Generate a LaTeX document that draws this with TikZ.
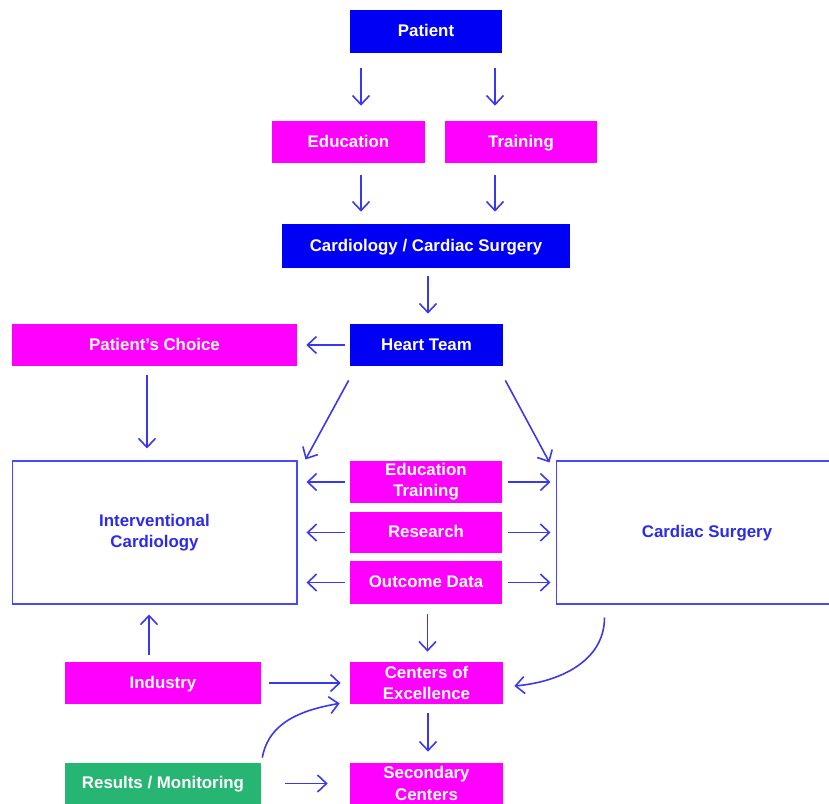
\documentclass[tikz,border=0pt]{standalone}
\usepackage{fontspec}
\setmainfont{Liberation Sans}
\usetikzlibrary{arrows.meta}
\definecolor{boxblue}{HTML}{0000F5}
\definecolor{boxpink}{HTML}{FF00FF}
\definecolor{boxgreen}{HTML}{27B574}
\definecolor{arrblue}{HTML}{3838F0}
\definecolor{lineblue}{HTML}{4848FF}
\definecolor{textblue}{HTML}{2B2BE8}
\tikzset{
  box/.style={inner sep=0pt, align=center, font=\fontsize{9.6}{12}\selectfont\bfseries},
  oneline/.style={text height=1.6ex, text depth=0.45ex},
  bluebox/.style={box, fill=boxblue, text=white},
  pinkbox/.style={box, fill=boxpink, text=white},
  greenbox/.style={box, fill=boxgreen, text=white},
  openbox/.style={box, draw=lineblue, line width=0.6pt, fill=white, text=textblue},
  arr/.style={-{Straight Barb[length=1.8mm,width=3.4mm,line width=0.9pt]}, draw=arrblue, line width=0.9pt}
}
\begin{document}
\begin{tikzpicture}[x=0.02cm, y=-0.02cm]
    \useasboundingbox (0,0) rectangle (829,804);
    % top part
    \node[bluebox, oneline, minimum width=3.04cm, minimum height=0.86cm] (patient) at (426,31.5) {Patient};
    \node[pinkbox, oneline, minimum width=3.06cm, minimum height=0.84cm] (edu) at (348.5,142) {Education};
    \node[pinkbox, oneline, minimum width=3.04cm, minimum height=0.84cm] (train) at (521,142) {Training};
    \node[bluebox, oneline, minimum width=5.76cm, minimum height=0.88cm] (cardio) at (426,246) {Cardiology / Cardiac Surgery};
    \node[bluebox, oneline, minimum width=3.06cm, minimum height=0.84cm] (heart) at (426.5,345) {Heart Team};
    \node[pinkbox, oneline, minimum width=5.70cm, minimum height=0.84cm] (choice) at (154.5,345) {Patient's Choice};
    % the two sides
    \node[openbox, minimum width=5.70cm, minimum height=2.86cm] (interv) at (154.5,532.5) {Interventional\\Cardiology};
    \node[openbox, oneline, minimum width=6.04cm, minimum height=2.86cm] (surg) at (707,532.5) {Cardiac Surgery};
    \node[pinkbox, minimum width=3.04cm, minimum height=0.84cm] (edtrain) at (426,482) {Education\\Training};
    \node[pinkbox, oneline, minimum width=3.04cm, minimum height=0.82cm] (research) at (426,532.5) {Research};
    \node[pinkbox, oneline, minimum width=3.04cm, minimum height=0.86cm] (outcome) at (426,582.5) {Outcome Data};
    % bottom part
    \node[pinkbox, oneline, minimum width=3.92cm, minimum height=0.84cm] (industry) at (163,683) {Industry};
    \node[pinkbox, minimum width=3.06cm, minimum height=0.84cm] (coe) at (426.5,683) {Centers of\\Excellence};
    \node[greenbox, oneline, minimum width=3.92cm, minimum height=0.82cm] (results) at (163,783.5) {Results / Monitoring};
    \node[pinkbox, minimum width=3.06cm, minimum height=0.82cm] (second) at (426.5,783.5) {Secondary\\Centers};

    \draw[arr, shorten <=0.3cm, shorten >=0.3cm] ([xshift=0.25cm]edu.north |- patient.south) -- ([xshift=0.25cm]edu.north);
    \draw[arr, shorten <=0.3cm, shorten >=0.3cm] ([xshift=-0.52cm]train.north |- patient.south) -- ([xshift=-0.52cm]train.north);
    \draw[arr, shorten <=0.24cm, shorten >=0.24cm] ([xshift=0.25cm]edu.south) -- ([xshift=0.25cm]edu.south |- cardio.north);
    \draw[arr, shorten <=0.24cm, shorten >=0.24cm] ([xshift=-0.52cm]train.south) -- ([xshift=-0.52cm]train.south |- cardio.north);
    \draw[arr, shorten <=0.16cm, shorten >=0.2cm] ([xshift=0.04cm]cardio.south) -- ([xshift=0.04cm]cardio.south |- heart.north);
    \draw[arr, shorten <=0.1cm, shorten >=0.18cm] (heart.west) -- (choice.east);
    \draw[arr, shorten <=0.18cm, shorten >=0.24cm] ([xshift=-0.15cm]choice.south) -- ([xshift=-0.15cm]choice.south |- interv.north);
    \draw[arr] ([xshift=-0.02cm,yshift=-0.28cm]heart.south west) -- ([xshift=0.16cm,yshift=0.02cm]interv.north east);
    \draw[arr] ([xshift=0.04cm,yshift=-0.28cm]heart.south east) -- ([xshift=-0.12cm,yshift=-0.04cm]surg.north west);
    % middle arrows
    \foreach \m in {edtrain, research, outcome}
    {
      \draw[arr, shorten <=0.1cm, shorten >=0.18cm] (\m.west) -- (\m.west -| interv.east);
      \draw[arr, shorten <=0.12cm, shorten >=0.1cm] (\m.east) -- (\m.east -| surg.west);
    }
    \draw[arr, shorten <=0.2cm, shorten >=0.2cm] ([xshift=0.03cm]outcome.south) -- ([xshift=0.03cm]outcome.south |- coe.north);
    \draw[arr] ([xshift=0.98cm,yshift=-0.26cm]surg.south west) to[out=-90, in=5] ([xshift=0.22cm,yshift=-0.06cm]coe.east);
    \draw[arr, shorten <=0.14cm, shorten >=0.2cm] ([xshift=-0.28cm]industry.north) -- ([xshift=-0.28cm]industry.north |- interv.south);
    \draw[arr, shorten <=0.16cm, shorten >=0.18cm] (industry.east) -- (coe.west);
    \draw[arr] ([xshift=0.02cm,yshift=0.1cm]results.north east) to[out=80, in=190] ([xshift=-0.2cm,yshift=0.02cm]coe.south west);
    \draw[arr, shorten <=0.48cm, shorten >=0.44cm] (results.east) -- (second.west);
    \draw[arr, shorten <=0.18cm, shorten >=0.22cm] ([xshift=0.03cm]coe.south) -- ([xshift=0.03cm]coe.south |- second.north);
\end{tikzpicture}
\end{document}
